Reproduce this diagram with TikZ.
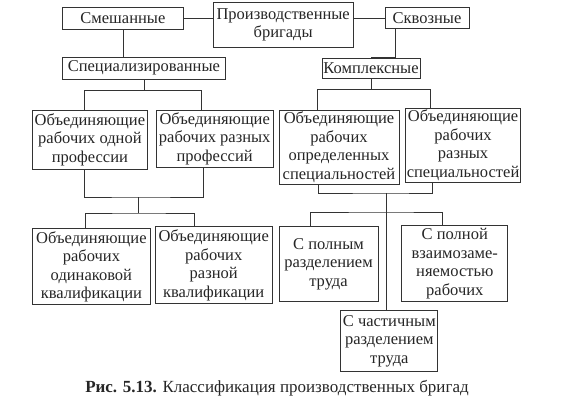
\documentclass[tikz,border=0pt]{standalone}
\usepackage{fontspec}
\setmainfont{Liberation Serif}
\usetikzlibrary{positioning,calc}
\tikzset{
  brigbox/.style={draw=black!80,line width=0.8pt,fill=white,align=center,inner sep=1pt,
    font=\fontsize{16.5}{18.5}\selectfont,text=black!85},
  treeline/.style={draw=black!80,line width=0.8pt},
  figcaption/.style={font=\fontsize{17}{19}\selectfont,text=black!85}
}
\begin{document}
\begin{tikzpicture}[x=1pt,y=1pt]
  \useasboundingbox (0,0) rectangle (571,-400);
  \node[brigbox,minimum width=121pt,minimum height=22pt,anchor=north west] (mix) at (62,-7) {Смешанные};
  \node[brigbox,minimum width=140pt,minimum height=45pt,below right=-5pt and 29pt of mix.north east]
    (brig) {Производственные\\бригады};
  \node[brigbox,minimum width=84pt,minimum height=21pt,below right=5pt and 31pt of brig.north east]
    (thru) {Сквозные};
  \node[brigbox,minimum width=163pt,minimum height=22pt,below right=27pt and 0pt of mix.south west]
    (spec) {Специализированные};
  \node[brigbox,minimum width=98pt,minimum height=20pt,below right=29pt and -63pt of thru.south west]
    (complex) {Комплексные};
  \node[brigbox,minimum width=115pt,minimum height=59pt,below right=30pt and -30pt of spec.south west]
    (onepro) {Объединяющие\\рабочих одной\\профессии};
  \node[brigbox,minimum width=117pt,minimum height=57pt,below right=0pt and 8pt of onepro.north east]
    (diffpro) {Объединяющие\\рабочих разных\\профессий};
  \node[brigbox,minimum width=120pt,minimum height=74pt,below right=0pt and 5pt of diffpro.north east]
    (defspec) {Объединяющие\\рабочих\\определенных\\специальностей};
  \node[brigbox,minimum width=114pt,minimum height=74pt,below right=-2pt and 6pt of defspec.north east]
    (diffspec) {Объединяющие\\рабочих\\разных\\специальностей};
  \node[brigbox,minimum width=118pt,minimum height=76pt,below right=59pt and 0pt of onepro.south west]
    (samequal) {Объединяющие\\рабочих\\одинаковой\\квалификации};
  \node[brigbox,minimum width=117pt,minimum height=77pt,below right=-2pt and 4pt of samequal.north east]
    (diffqual) {Объединяющие\\рабочих\\разной\\квалификации};
  \node[brigbox,minimum width=99pt,minimum height=75pt,below right=0pt and 6pt of diffqual.north east]
    (fulldiv) {С полным\\разделением\\труда};
  \node[brigbox,minimum width=106pt,minimum height=76pt,below right=-1pt and 23pt of fulldiv.north east]
    (fullswap) {С полной\\взаимозаме-\\няемостью\\рабочих};
  \node[brigbox,minimum width=97pt,minimum height=61pt,below right=8pt and -38pt of fulldiv.south east]
    (partdiv) {С частичным\\разделением\\труда};
  \coordinate[below=11pt of spec.south] (j1);
  \coordinate (j2) at (138,-197);
  \coordinate (j3) at (138,-213);
  \coordinate[below=11pt of complex.south] (j6);
  \coordinate (j4) at (386,-193);
  \coordinate (j5) at (386,-212);
  \draw[treeline] (mix.east) -- (mix.east -| brig.west);
  \draw[treeline] (thru.west -| brig.east) -- (thru.west);
  \draw[treeline] (mix.south) -- (mix.south |- spec.north);
  \draw[treeline] ([xshift=11pt]thru.south west) |- (complex.north);
  \draw[treeline] (spec.south) -- (j1);
  \draw[treeline] ([xshift=-6pt]onepro.north) |- (j1) -| ([xshift=-13pt]diffpro.north);
  \draw[treeline] ([xshift=-6pt]onepro.south) |- (j2) -| ([xshift=-11pt]diffpro.south);
  \draw[treeline] (j2) -- (j3);
  \draw[treeline] ([xshift=-6pt]samequal.north) |- (j3) -| ([xshift=-19pt]diffqual.north);
  \draw[treeline] (complex.south) -- (j6);
  \draw[treeline] ([xshift=-22pt]defspec.north) |- (j6) -| ([xshift=-33pt]diffspec.north);
  \draw[treeline] ([xshift=-21pt]defspec.south) |- (j4) -| ([xshift=-31pt]diffspec.south);
  \draw[treeline] (j4) -- (j4 |- partdiv.north);
  \draw[treeline] ([xshift=-18pt]fulldiv.north) |- (j5) -| ([xshift=-12pt]fullswap.north);
  \node[figcaption] (cap) at (277,-388) {\textbf{Рис. 5.13.} Классификация производственных бригад};
\end{tikzpicture}
\end{document}
